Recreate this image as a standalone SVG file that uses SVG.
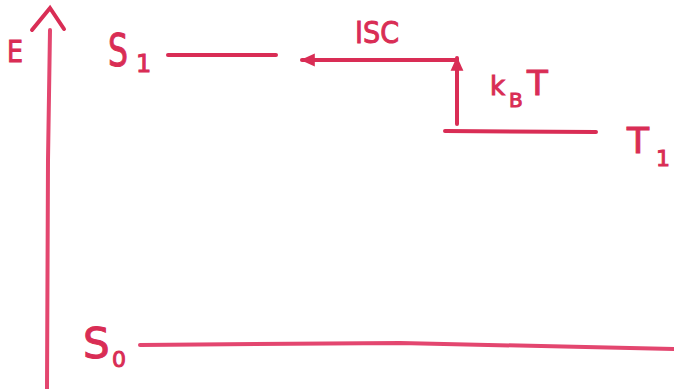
<svg xmlns="http://www.w3.org/2000/svg" width="674" height="389" viewBox="0 0 674 389">
<style>
.ln{stroke:#d92d55;stroke-width:4;stroke-linecap:round;fill:none}
.lp{stroke:#e3466f;stroke-width:4;stroke-linecap:round;fill:none}
.t{fill:#d92d55;stroke:#d92d55;stroke-width:1;font-family:"DejaVu Sans","Liberation Sans",sans-serif}
</style>
<defs>
<marker id="ah" viewBox="0 0 10 10" refX="8" refY="5" markerWidth="4" markerHeight="4" orient="auto-start-reverse" markerUnits="strokeWidth">
<path d="M0,1 L9,5 L0,9 Z" fill="#d92d55"/>
</marker>
</defs>
<rect width="674" height="389" fill="#ffffff"/>
<g id="axis">
<path class="lp" d="M50,30 L48,160 L47,389"/>
<path class="ln" d="M32,30 L50,8 L64,29"/>
<text class="t" x="7" y="62" font-size="30" textLength="16" lengthAdjust="spacingAndGlyphs">E</text>
</g>
<g id="S1">
<text class="t" x="108" y="66" font-size="45" textLength="20" lengthAdjust="spacingAndGlyphs">S</text>
<text class="t" x="136" y="72" font-size="24">1</text>
<line class="ln" x1="168" y1="55" x2="276" y2="55"/>
</g>
<g id="T1">
<line class="ln" x1="445" y1="131" x2="596" y2="132"/>
<text class="t" x="627" y="153" font-size="36">T</text>
<text class="t" x="656" y="166" font-size="22">1</text>
</g>
<g id="S0">
<text class="t" x="83" y="358" font-size="42">S</text>
<text class="t" x="112" y="367" font-size="22">0</text>
<path class="lp" d="M140,345 L400,343 L674,349"/>
</g>
<g id="connectors">
<path class="ln" d="M457,124 L457,58" marker-end="url(#ah)"/>
<path class="ln" d="M457,60 L302,60" marker-end="url(#ah)"/>
<text class="t" x="355" y="43" font-size="31" textLength="44" lengthAdjust="spacingAndGlyphs">ISC</text>
<text class="t" x="490" y="95" font-size="26">k</text>
<text class="t" x="509" y="107" font-size="20">B</text>
<text class="t" x="527" y="95" font-size="34">T</text>
</g>
</svg>
